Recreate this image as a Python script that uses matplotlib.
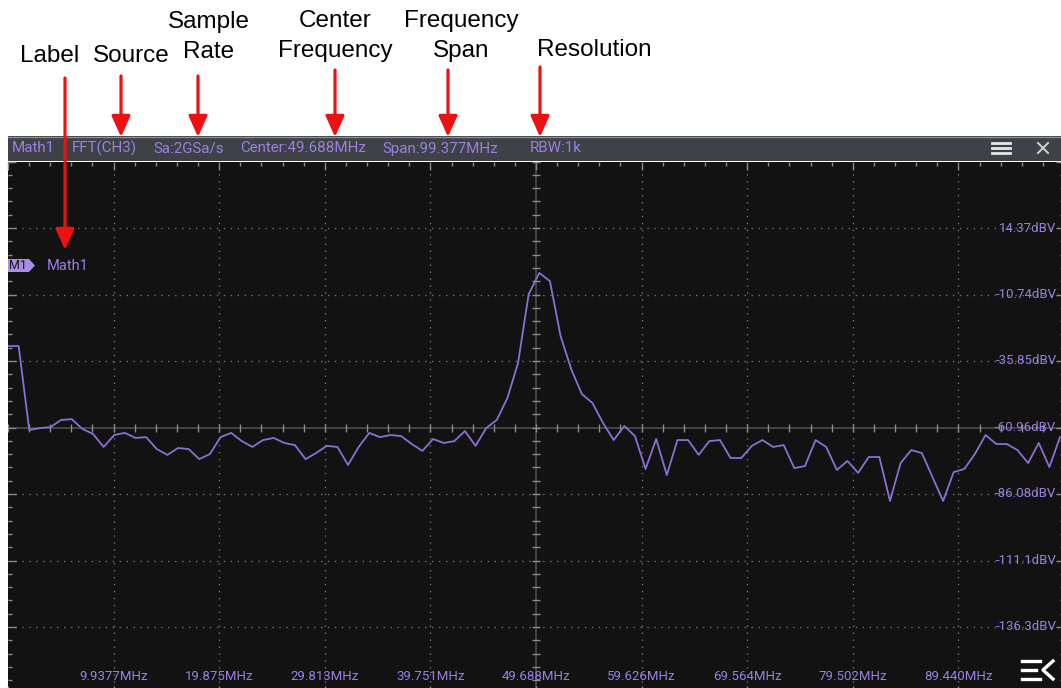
import numpy as np
import matplotlib.pyplot as plt
from matplotlib.patches import Rectangle, Polygon, FancyArrowPatch
from matplotlib.lines import Line2D
from matplotlib.transforms import Affine2D, blended_transform_factory

# FFT trace, one value per bin (dBV)
level_dbv = [
    -30.2, -30.2, -61.9, -61.2, -60.8, -58.1, -57.8, -61.5, -63.4, -68.3,
    -63.8, -63.0, -64.9, -64.6, -69.1, -71.3, -68.7, -69.1, -72.9, -71.0,
    -64.6, -63.0, -66.1, -68.3, -65.7, -64.9, -66.8, -67.6, -72.9, -70.6,
    -67.9, -68.3, -75.1, -68.3, -63.0, -64.6, -63.8, -64.2, -67.2, -69.8,
    -65.3, -66.8, -66.1, -62.3, -67.9, -61.2, -58.1, -49.8, -36.6, -10.6,
    -2.6, -5.7, -26.4, -38.9, -48.3, -51.7, -59.3, -65.7, -60.4, -64.2,
    -76.6, -65.3, -78.9, -65.7, -65.7, -71.3, -66.1, -65.7, -72.5, -72.5,
    -67.9, -65.7, -68.3, -67.6, -76.3, -75.5, -65.7, -68.3, -77.0, -73.6,
    -78.1, -72.1, -72.1, -88.7, -74.4, -69.5, -70.6, -79.7, -88.7, -77.8,
    -76.6, -70.9, -63.8, -67.2, -67.2, -69.5, -74.4, -66.8, -75.9, -64.6,
]
bin_step_mhz = 1.0
freq_mhz = np.arange(len(level_dbv)) * bin_step_mhz

span_mhz = 99.377
y_top_dbv = 39.48
y_div_db = 25.11
x_labels = ['9.9377MHz', '19.875MHz', '29.813MHz', '39.751MHz', '49.688MHz',
            '59.626MHz', '69.564MHz', '79.502MHz', '89.440MHz']
y_labels = ['14.37dBV', '-10.74dBV', '-35.85dBV', '-60.96dBV',
            '-86.08dBV', '-111.1dBV', '-136.3dBV']
header_texts = ['Math1', 'FFT(CH3)', 'Sa:2GSa/s', 'Center:49.688MHz',
                'Span:99.377MHz', 'RBW:1k']
callouts = ['Label', 'Source', 'Sample\nRate', 'Center\nFrequency',
            'Frequency\nSpan', 'Resolution']

W, H = 1061, 688
PURPLE = '#9a80e0'
TRACE = '#8a6fd4'
BG = '#121212'

fig = plt.figure(figsize=(W / 100, H / 100), dpi=100, facecolor='white')
# pixel transform, origin top-left
pix = Affine2D().scale(1 / W, -1 / H).translate(0, 1) + fig.transFigure

ax = fig.add_axes([8 / W, 1 - 693.5 / H, 1056 / W, 532 / H])
ax.set_facecolor(BG)
ax.set_xlim(0, span_mhz)
ax.set_ylim(y_top_dbv - 8 * y_div_db, y_top_dbv)
for s in ax.spines.values():
    s.set_visible(False)

xdiv = span_mhz / 10
x_major = [k * xdiv for k in range(11)]
x_minor = [k * xdiv / 5 for k in range(51)]
y_major = [y_top_dbv - k * y_div_db for k in range(9)]
y_minor = [y_top_dbv - k * y_div_db / 5 for k in range(41)]
ax.set_xticks(x_major)
ax.set_xticks(x_minor, minor=True)
ax.set_yticks(y_major)
ax.set_yticks(y_minor, minor=True)
ax.tick_params(which='both', direction='in', top=True, right=True,
               labelbottom=False, labelleft=False, color='#8a8a8a')
ax.tick_params(which='major', length=6, width=1)
ax.tick_params(which='minor', length=3, width=1)

xc = x_major[5]
yc = y_major[4]
for x in x_major[1:10]:
    if x != xc:
        ax.axvline(x, color='#707070', lw=1, ls=(0, (1, 4)), zorder=1)
for y in y_major[1:8]:
    if y != yc:
        ax.axhline(y, color='#707070', lw=1, ls=(0, (1, 4)), zorder=1)
ax.axhline(yc, color='#4c4c4c', lw=1.2, zorder=1)
ax.axvline(xc, color='#4c4c4c', lw=1.2, zorder=1)
ax.plot(x_minor, [yc] * len(x_minor), ls='none', marker='|', ms=6,
        mew=1, color='#8a8a8a', zorder=1)
ax.plot([xc] * len(y_minor), y_minor, ls='none', marker='_', ms=6,
        mew=1, color='#8a8a8a', zorder=1)

ax.plot(freq_mhz, level_dbv, color=TRACE, lw=1.3, zorder=3)

xlab_tr = blended_transform_factory(ax.transData, pix)
for x, lab in zip(x_major[1:10], x_labels):
    ax.text(x, 677, lab, transform=xlab_tr, ha='center', va='center',
            fontsize=9.5, color=PURPLE, family='Roboto')
for y, lab in zip(y_major[1:8], y_labels):
    ax.text((1056.5 - 8) / 1056, y, lab, transform=ax.get_yaxis_transform(),
            ha='right', va='center', fontsize=9.5, color=PURPLE,
            family='Roboto')

# header bar
fig.patches.append(Rectangle((8, 136), 1053, 25, transform=pix,
                             facecolor='#3e4246', edgecolor='none'))
fig.lines.append(Line2D([8, 1061], [136.5, 136.5], transform=pix,
                        color='#8a8e91', lw=1))
for lab, x in zip(header_texts, [12, 72, 153, 240, 382, 530]):
    fig.text(x / W, 1 - 148.5 / H, lab, ha='left', va='center',
             fontsize=10.9, color=PURPLE, family='Roboto')
for y in [142.5, 147.5, 152.5]:
    fig.lines.append(Line2D([992, 1010], [y, y], transform=pix,
                            color='#e6e6e6', lw=2))
fig.lines.append(Line2D([1038, 1048], [143, 153], transform=pix,
                        color='#d0d0d0', lw=1.4))
fig.lines.append(Line2D([1038, 1048], [153, 143], transform=pix,
                        color='#d0d0d0', lw=1.4))

# M1 tag
fig.patches.append(Polygon([(8, 259), (29, 259), (35, 265.5), (29, 272),
                            (8, 272)], closed=True, transform=pix,
                           facecolor='#a98de8', edgecolor='none', zorder=4))
fig.text(18 / W, 1 - 265.5 / H, 'M1', ha='center', va='center',
         fontsize=9, color='#1a1a1a', family='Roboto', zorder=5)
fig.text(47 / W, 1 - 265.5 / H, 'Math1', ha='left', va='center',
         fontsize=10.5, color=PURPLE, family='Roboto', zorder=5)

# bottom-right menu icon
for y, x1 in [(661, 1040), (670, 1036), (679, 1040)]:
    fig.lines.append(Line2D([1022, x1], [y, y], transform=pix,
                            color='white', lw=2.4, zorder=5))
fig.lines.append(Line2D([1053, 1043, 1053], [661, 670, 679], transform=pix,
                        color='white', lw=2.4, zorder=5))

# callouts
text_pos = [(50, 55.5), (131, 55.5), (209, 37), (335, 36), (461, 36), (594, 49.5)]
arrow_pos = [(65, 78, 250), (121, 76, 137), (198, 76, 137),
             (335, 70, 137), (448, 70, 137), (540, 67, 137)]
for lab, (tx, ty) in zip(callouts, text_pos):
    fig.text(tx / W, 1 - ty / H, lab, ha='center', va='center',
             fontsize=17.5, family='Liberation Sans', color='black',
             linespacing=1.45)
for x, y0, y1 in arrow_pos:
    fig.patches.append(FancyArrowPatch((x, y0), (x, y1), transform=pix,
                                       arrowstyle='-|>,head_length=0.85,head_width=0.38',
                                       mutation_scale=15, color='#ee1111',
                                       lw=2.3, shrinkA=0, shrinkB=0, zorder=6))

fig.savefig('out.png', dpi=100, facecolor='white')
